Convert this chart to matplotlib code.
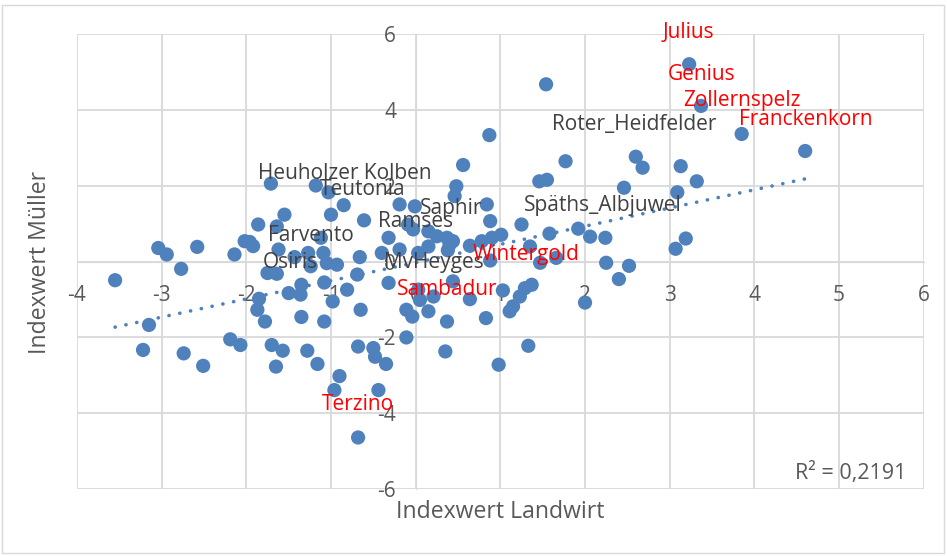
import matplotlib
matplotlib.use("Agg")
import matplotlib.pyplot as plt
from matplotlib.patches import Rectangle
import numpy as np

# values (Indexwert Landwirt, Indexwert Müller)
landwirt = [
    3.23, 3.37, 3.85, 4.60, 3.13, 3.32, 3.09, 3.19, 3.07, 1.54,
    0.87, 0.56, 1.77, 2.60, 2.68, 2.46, 1.46, 1.55, 1.92, 2.06,
    2.24, 2.25, 2.52, 2.40, 2.00, 0.48, 0.46, 0.84, 0.88, 1.25,
    1.58, 0.15, 0.25, 0.37, 0.40, 0.64, 0.78, 0.90, 1.01, 1.35,
    1.47, 1.66, 0.88, -0.19, -0.01, -0.09, -0.03, -0.32, -0.19, 0.03,
    -0.40, 0.15, 0.38, -0.61, -0.85, -1.00, -1.03, -1.18, -1.71, -1.55,
    -1.86, -1.64, -1.12, -2.02, -1.92, -1.96, -3.04, -2.94, -2.58, -2.14,
    -1.62, -1.43, -1.27, -1.09, -0.66, -2.77, -3.55, -1.24, -1.05, -0.93,
    -1.75, -1.64, -1.35, -1.36, -1.50, -1.08, -0.81, -0.69, -0.65, -0.98,
    -1.85, -1.87, -1.78, -1.35, -1.08, -3.15, -3.22, -2.74, -2.51, -2.19,
    -2.07, -1.70, -1.57, -1.65, -1.28, -1.16, -0.90, -0.96, -0.68, -0.50,
    -0.48, -0.68, -0.44, -0.35, -0.11, -0.32, -0.11, -0.04, 0.15, 0.03,
    0.44, 0.05, 0.21, 0.64, 0.37, 0.83, 0.35, 0.98, 1.33, 1.03,
    1.11, 1.15, 1.23, 1.29, 1.37, 0.44,
]
mueller = [
    5.21, 4.11, 3.37, 2.92, 2.52, 2.12, 1.83, 0.61, 0.34, 4.68,
    3.34, 2.55, 2.65, 2.77, 2.48, 1.95, 2.12, 2.16, 0.87, 0.66,
    0.63, -0.03, -0.11, -0.46, -1.08, 1.99, 1.73, 1.51, 1.07, 0.98,
    0.74, 0.80, 0.67, 0.63, 0.45, 0.42, 0.54, 0.63, 0.71, 0.40,
    -0.03, 0.10, 0.03, 1.51, 1.46, 0.98, 0.85, 0.63, 0.32, 0.23,
    0.23, 0.40, 0.30, 1.09, 1.49, 1.24, 1.83, 2.01, 2.06, 1.24,
    0.98, 0.93, 0.63, 0.54, 0.41, 0.52, 0.36, 0.19, 0.39, 0.19,
    0.32, 0.12, 0.23, 0.23, 0.12, -0.19, -0.49, -0.12, -0.04, -0.08,
    -0.30, -0.32, -0.61, -0.87, -0.83, -0.55, -0.74, -0.34, -1.27, -1.05,
    -0.98, -1.27, -1.58, -1.46, -1.58, -1.67, -2.33, -2.42, -2.75, -2.05,
    -2.20, -2.20, -2.35, -2.77, -2.35, -2.70, -3.02, -3.39, -2.24, -2.28,
    -2.51, -4.64, -3.39, -2.70, -2.00, -0.56, -1.27, -1.45, -1.31, -0.74,
    -0.52, -1.01, -0.92, -0.99, -1.58, -1.49, -2.37, -2.72, -2.22, -0.76,
    -1.31, -1.18, -0.92, -0.70, -0.61, 0.54,
]

# data labels: name, x, y (text anchor), colour
label_names = ["Heuholzer Kolben", "Teutonia", "Saphir", "Ramses", "Späths_Albjuwel",
               "Farvento", "Osiris", "MvHeyges", "Roter_Heidfelder",
               "Julius", "Genius", "Zollernspelz", "Franckenkorn",
               "Wintergold", "Sambadur", "Terzino"]
label_x = [-1.86, -1.13, 0.05, -0.44, 1.28, -1.74, -1.81, -0.38, 1.61,
           2.92, 2.98, 3.16, 3.82, 0.67, -0.22, -1.11]
label_y = [2.33, 1.90, 1.40, 1.06, 1.48, 0.69, -0.03, -0.03, 3.62,
           6.05, 4.95, 4.24, 3.76, 0.19, -0.74, -3.78]
label_red = [False] * 9 + [True] * 7

r2_text = "R² = 0,2191"

blue = "#4F81BD"
grid = "#D9D9D9"

plt.rcParams['font.family'] = ['Open Sans', 'DejaVu Sans']
plt.rcParams['axes.unicode_minus'] = False

fig = plt.figure(figsize=(9.47, 5.56), dpi=100)
# chart frame
fig.patches.append(Rectangle((2 / 947, 3 / 556), 942 / 947, 548 / 556, transform=fig.transFigure,
                             fill=False, edgecolor=grid, lw=1))
ax = fig.add_axes([77 / 947, 1 - 489 / 556, 846.7 / 947, 454.7 / 556])

ax.scatter(landwirt, mueller, s=105, color=blue, edgecolors='none', zorder=3)

# linear trendline
x = np.array(landwirt)
y = np.array(mueller)
k, d = np.polyfit(x, y, 1)
xt = np.array([x.min(), x.max()])
ax.plot(xt, k * xt + d, color=blue, lw=2.6, linestyle=(0, (0.05, 3.0)),
        dash_capstyle='round', zorder=4)

for name, lx, ly, red in zip(label_names, label_x, label_y, label_red):
    ax.text(lx, ly, name, ha='left', va='center', fontsize=15,
            color='red' if red else '#404040', zorder=5)

ax.set_xlim(-4, 6)
ax.set_ylim(-6, 6)
ax.set_xticks(range(-4, 7))
ax.set_yticks(range(-6, 7, 2))
ax.grid(True, color=grid, lw=1.3, zorder=0)
ax.set_axisbelow(True)

for s in ['top', 'right']:
    ax.spines[s].set_visible(False)
ax.spines['left'].set_position(('data', 0))
ax.spines['bottom'].set_position(('data', 0))
ax.spines['left'].set_color(grid)
ax.spines['bottom'].set_color(grid)
ax.tick_params(length=0, labelsize=15, labelcolor='#595959')
ax.tick_params(axis='x', pad=17)
ax.tick_params(axis='y', pad=14)

fig.text(500 / 947, 1 - 512 / 556, "Indexwert Landwirt", ha='center', va='center',
         fontsize=16.6, color='#595959')
fig.text(40 / 947, 1 - 262 / 556, "Indexwert Müller", ha='center', va='center',
         rotation=90, fontsize=16.6, color='#595959')
ax.text(0.98, 0.035, r2_text, transform=ax.transAxes, ha='right', va='center',
        fontsize=15.5, color='#595959')

fig.savefig("out.png", dpi=100)
